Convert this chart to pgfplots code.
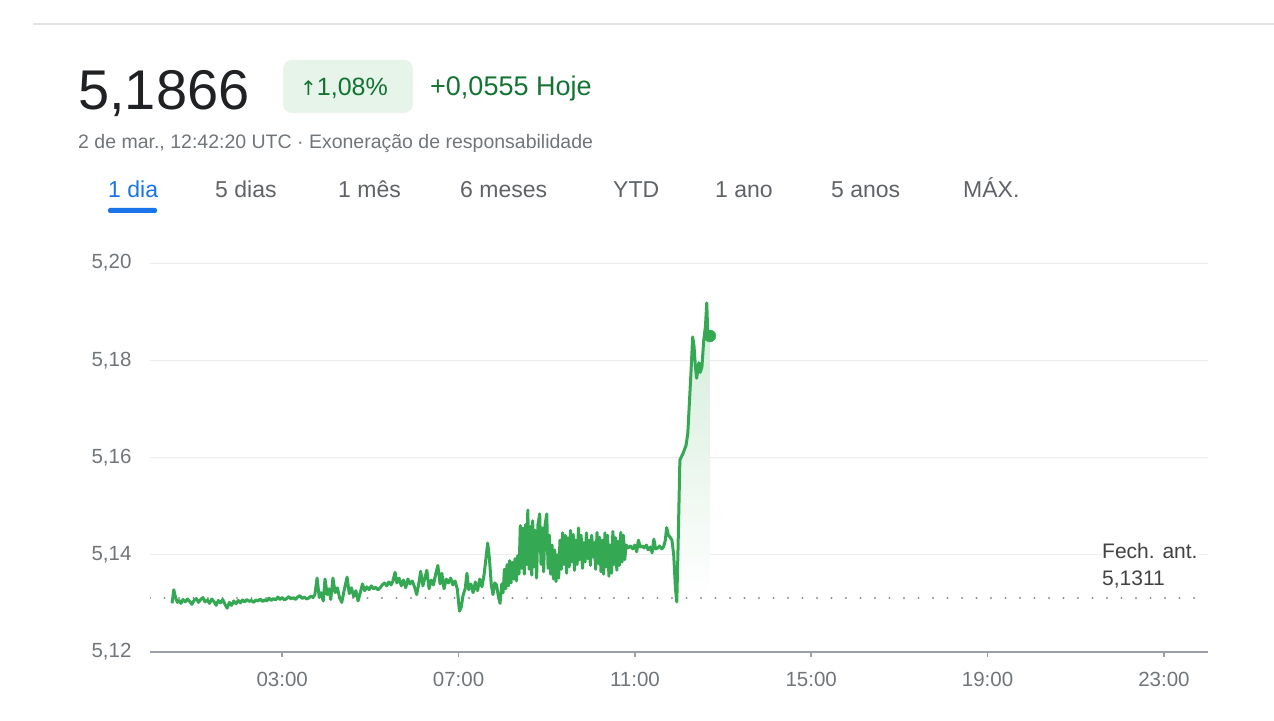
\documentclass[border=0pt]{standalone}
\usepackage{pgfplots}
\pgfplotsset{compat=1.18}
\usepackage{pgfplotstable}
\usepackage{fontspec}
\setmainfont{Liberation Sans}
\newfontfamily\dejavu{DejaVu Sans}
\definecolor{lineGreen}{HTML}{34A853}
\definecolor{badge}{HTML}{E6F4EA}
\definecolor{greenText}{HTML}{137333}
\definecolor{blueTab}{HTML}{1A73E8}
\definecolor{tabGray}{HTML}{5F6368}
\definecolor{tickGray}{HTML}{70757A}
\definecolor{darkText}{HTML}{202124}
\definecolor{gridGray}{HTML}{ECEDEF}
\definecolor{axisGray}{HTML}{9AA0A6}

\pgfplotstableread{
h v
0.50 5.1300
0.54 5.1328
0.58 5.1312
0.62 5.1302
0.66 5.1306
0.70 5.1300
0.75 5.1308
0.80 5.1303
0.85 5.1309
0.90 5.1304
0.95 5.1298
1.00 5.1306
1.05 5.1310
1.10 5.1302
1.15 5.1308
1.20 5.1312
1.25 5.1303
1.30 5.1307
1.35 5.1300
1.40 5.1309
1.45 5.1304
1.50 5.1296
1.55 5.1306
1.60 5.1301
1.65 5.1308
1.70 5.1298
1.75 5.1290
1.80 5.1302
1.85 5.1296
1.90 5.1305
1.95 5.1299
2.00 5.1306
2.05 5.1301
2.10 5.1307
2.15 5.1303
2.20 5.1308
2.25 5.1304
2.30 5.1306
2.35 5.1302
2.40 5.1307
2.45 5.1305
2.50 5.1309
2.55 5.1304
2.60 5.1307
2.65 5.1305
2.70 5.1311
2.75 5.1306
2.80 5.1310
2.85 5.1307
2.90 5.1313
2.95 5.1308
3.00 5.1312
3.05 5.1307
3.10 5.1310
3.15 5.1314
3.20 5.1309
3.25 5.1312
3.30 5.1308
3.35 5.1313
3.40 5.1316
3.45 5.1310
3.50 5.1313
3.55 5.1309
3.60 5.1311
3.65 5.1315
3.70 5.1312
3.74 5.1318
3.79 5.1352
3.84 5.1312
3.88 5.1322
3.93 5.1305
3.97 5.1350
4.02 5.1318
4.06 5.1330
4.10 5.1308
4.15 5.1352
4.20 5.1322
4.25 5.1332
4.30 5.1312
4.35 5.1302
4.40 5.1325
4.47 5.1354
4.52 5.1320
4.57 5.1332
4.62 5.1314
4.67 5.1326
4.72 5.1305
4.77 5.1322
4.82 5.1340
4.87 5.1326
4.92 5.1334
4.97 5.1328
5.02 5.1336
5.07 5.1330
5.12 5.1333
5.17 5.1328
5.22 5.1332
5.27 5.1338
5.32 5.1342
5.37 5.1336
5.42 5.1344
5.47 5.1338
5.51 5.1346
5.56 5.1364
5.60 5.1342
5.65 5.1352
5.70 5.1336
5.75 5.1348
5.80 5.1332
5.85 5.1350
5.90 5.1340
5.95 5.1346
6.00 5.1334
6.05 5.1318
6.10 5.1342
6.14 5.1366
6.19 5.1336
6.24 5.1354
6.28 5.1368
6.33 5.1330
6.38 5.1348
6.43 5.1338
6.48 5.1360
6.53 5.1378
6.58 5.1340
6.62 5.1362
6.67 5.1330
6.72 5.1350
6.77 5.1342
6.82 5.1352
6.87 5.1338
6.92 5.1346
6.97 5.1330
7.02 5.1284
7.06 5.1292
7.10 5.1316
7.15 5.1330
7.19 5.1362
7.23 5.1328
7.28 5.1340
7.33 5.1322
7.38 5.1344
7.43 5.1326
7.48 5.1350
7.53 5.1334
7.58 5.1360
7.63 5.1400
7.66 5.1424
7.70 5.1392
7.74 5.1340
7.78 5.1318
7.82 5.1342
7.86 5.1338
7.90 5.1316
7.94 5.1300
7.98 5.1340
8.01 5.1322
8.04 5.1370
8.07 5.1330
8.10 5.1380
8.13 5.1336
8.16 5.1388
8.19 5.1342
8.22 5.1384
8.25 5.1350
8.28 5.1392
8.31 5.1346
8.34 5.1398
8.37 5.1360
8.40 5.1460
8.43 5.1372
8.46 5.1455
8.49 5.1360
8.52 5.1462
8.55 5.1380
8.57 5.1492
8.60 5.1370
8.63 5.1458
8.66 5.1358
8.68 5.1470
8.71 5.1375
8.74 5.1450
8.77 5.1352
8.80 5.1462
8.84 5.1484
8.87 5.1380
8.90 5.1455
8.93 5.1365
8.96 5.1460
9.00 5.1484
9.03 5.1372
9.06 5.1440
9.09 5.1360
9.12 5.1420
9.15 5.1350
9.18 5.1410
9.21 5.1345
9.24 5.1400
9.27 5.1352
9.30 5.1430
9.33 5.1370
9.36 5.1445
9.39 5.1380
9.42 5.1440
9.45 5.1362
9.48 5.1435
9.51 5.1375
9.54 5.1450
9.57 5.1385
9.60 5.1442
9.63 5.1368
9.66 5.1430
9.69 5.1380
9.72 5.1455
9.75 5.1390
9.78 5.1440
9.81 5.1372
9.84 5.1425
9.87 5.1385
9.90 5.1445
9.93 5.1392
9.96 5.1430
9.99 5.1378
10.02 5.1440
10.05 5.1395
10.08 5.1425
10.11 5.1370
10.14 5.1446
10.17 5.1382
10.20 5.1436
10.23 5.1365
10.26 5.1430
10.29 5.1360
10.32 5.1445
10.35 5.1375
10.38 5.1440
10.41 5.1356
10.44 5.1420
10.47 5.1362
10.50 5.1448
10.53 5.1380
10.56 5.1435
10.59 5.1368
10.62 5.1428
10.65 5.1378
10.68 5.1446
10.71 5.1385
10.74 5.1440
10.77 5.1390
10.80 5.1420
10.85 5.1414
10.90 5.1418
10.95 5.1412
11.00 5.1420
11.04 5.1406
11.08 5.1430
11.12 5.1416
11.17 5.1418
11.21 5.1414
11.26 5.1420
11.30 5.1410
11.35 5.1416
11.39 5.1404
11.43 5.1432
11.47 5.1412
11.52 5.1414
11.56 5.1418
11.61 5.1412
11.65 5.1416
11.69 5.1430
11.72 5.1456
11.76 5.1440
11.80 5.1436
11.84 5.1430
11.88 5.1400
11.92 5.1330
11.95 5.1303
11.98 5.1420
12.02 5.1595
12.09 5.1608
12.16 5.1625
12.20 5.1650
12.24 5.1720
12.28 5.1790
12.31 5.1848
12.34 5.1830
12.37 5.1790
12.40 5.1763
12.45 5.1795
12.48 5.1775
12.52 5.1786
12.56 5.1840
12.60 5.1870
12.63 5.1918
12.65 5.1862
12.68 5.1855
12.70 5.1850
}\mainline

\pgfplotstableread{
h v
12.02 5.1311
12.02 5.1595
12.09 5.1608
12.16 5.1625
12.20 5.1650
12.24 5.1720
12.28 5.1790
12.31 5.1848
12.34 5.1830
12.37 5.1790
12.40 5.1763
12.45 5.1795
12.48 5.1775
12.52 5.1786
12.56 5.1840
12.60 5.1870
12.63 5.1918
12.65 5.1862
12.68 5.1855
12.70 5.1850
12.70 5.1311
}\fillarea

\begin{document}
\begin{tikzpicture}[x=1pt,y=1pt]
\useasboundingbox (0,0) rectangle (1274,720);
% top rule
\draw[color=gray!22, line width=1.6pt] (33,696) -- (1274,696);
% price
\node[anchor=base west, inner sep=0, text=darkText, font=\fontsize{56}{60}\selectfont] at (78,610) {5,1866};
% badge
\fill[badge, rounded corners=9pt] (283,607) rectangle (413,660);
\node[anchor=base west, inner sep=0, text=greenText, font=\fontsize{25}{28}\selectfont] at (300,624) {{\dejavu\fontsize{20}{24}\selectfont ↑}1,08\%};
\node[anchor=base west, inner sep=0, text=greenText, font=\fontsize{27}{30}\selectfont] at (430,624) {+0,0555 Hoje};
% subtitle
\node[anchor=base west, inner sep=0, text=tickGray, font=\fontsize{19.5}{22}\selectfont] at (78,571) {2 de mar., 12:42:20 UTC · Exoneração de responsabilidade};
% tabs
\begin{scope}[every node/.style={anchor=base west, inner sep=0, text=tabGray, font=\fontsize{23}{26}\selectfont}]
\node[text=blueTab] at (108,522) {1 dia};
\node at (215,522) {5 dias};
\node at (338,522) {1 mês};
\node at (460,522) {6 meses};
\node at (613,522) {YTD};
\node at (715,522) {1 ano};
\node at (831,522) {5 anos};
\node at (963,522) {MÁX.};
\end{scope}
\fill[blueTab, rounded corners=2pt] (108,507) rectangle (157,512);

\begin{axis}[
  at={(150pt,68pt)}, anchor=south west,
  scale only axis, width=1058pt, height=389pt,
  xmin=0, xmax=24, ymin=5.12, ymax=5.20,
  axis x line*=bottom, axis y line*=left,
  y axis line style={draw=none},
  x axis line style={draw=axisGray, line width=1.2pt, -},
  xtick={3,7,11,15,19,23},
  xticklabels={03:00,07:00,11:00,15:00,19:00,23:00},
  ytick={5.12,5.14,5.16,5.18,5.20},
  ymajorgrids, grid style={draw=gridGray, line width=1pt},
  tick align=outside, major tick length=5pt,
  xtick style={draw=axisGray, line width=1.6pt},
  ytick style={draw=none},
  tick label style={font=\fontsize{20.5}{24}\selectfont, text=tickGray},
  yticklabel style={xshift=-10pt, /pgf/number format/.cd, fixed, fixed zerofill, precision=2, use comma, assume math mode=true},
  xticklabel style={yshift=-12pt},
]
\addplot[draw=none, top color=lineGreen!22, bottom color=white, forget plot] table[x=h,y=v] {\fillarea};
\addplot[color=tickGray!80, line width=2.2pt, line cap=round, dash pattern=on 0pt off 14.5pt, forget plot] coordinates {(0,5.1311) (24,5.1311)};
\addplot[color=lineGreen, line width=3pt, line join=round, mark=none] table[x=h,y=v] {\mainline};
\addplot[only marks, mark=*, mark size=6pt, color=lineGreen] coordinates {(12.70,5.1850)};
\end{axis}
% previous close label (over the grid, on white)
\node[anchor=base west, inner sep=0, fill=white, text=darkText!85, font=\fontsize{21}{24}\selectfont, text depth=2pt] at (1102,161) {Fech. ant.};
\node[anchor=base west, inner sep=0, text=darkText!85, font=\fontsize{21}{24}\selectfont] at (1102,134) {5,1311};
\end{tikzpicture}
\end{document}
